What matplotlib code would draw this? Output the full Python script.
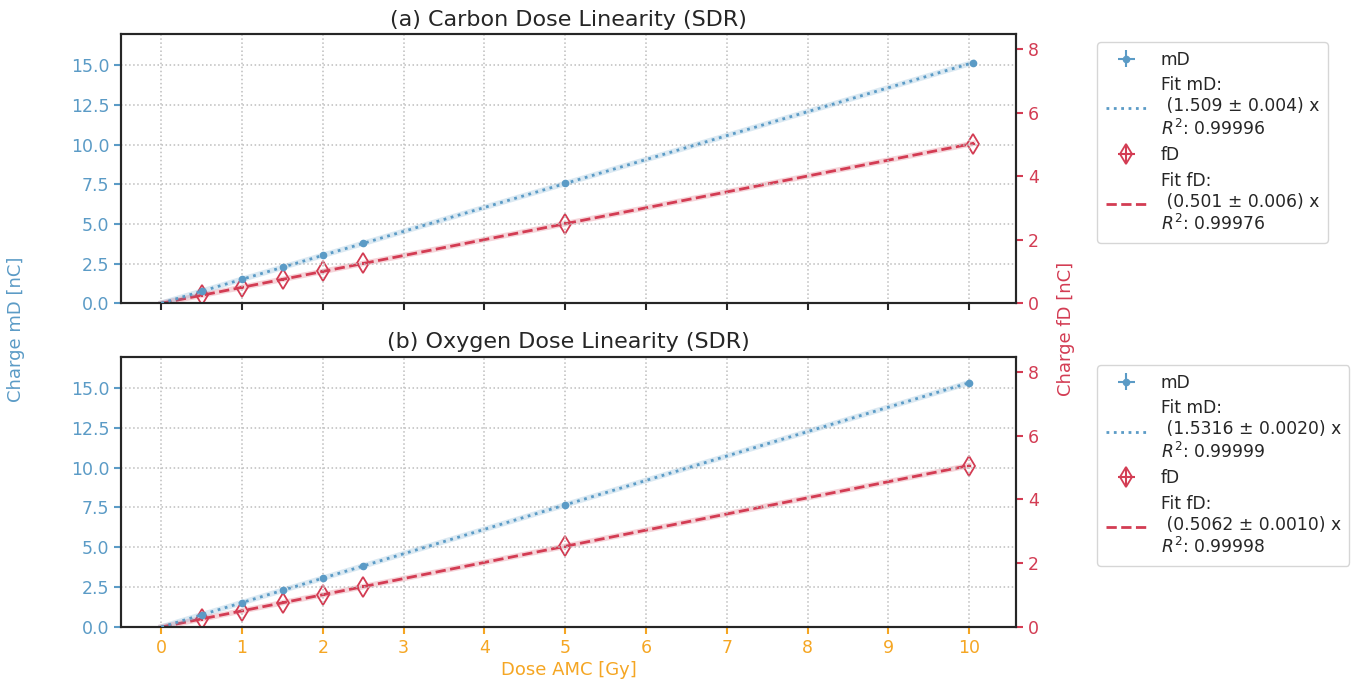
import matplotlib
matplotlib.use("Agg")
import matplotlib.pyplot as plt
import numpy as np

# ---- data ----
dose_c = [0.5, 1.0, 1.5, 2.0, 2.5, 5.0, 10.05]
md_c = [0.76, 1.51, 2.26, 3.02, 3.77, 7.55, 15.15]
fd_c = [0.25, 0.50, 0.75, 1.00, 1.26, 2.51, 5.03]
dose_o = [0.5, 1.0, 1.5, 2.0, 2.5, 5.0, 10.0]
md_o = [0.77, 1.53, 2.30, 3.06, 3.83, 7.66, 15.32]
fd_o = [0.25, 0.51, 0.76, 1.01, 1.27, 2.53, 5.06]
slope_md = [1.509, 1.5316]
slope_fd = [0.501, 0.5062]
md_labels = ["Fit mD:\n (1.509 ± 0.004) x\n$R^2$: 0.99996",
             "Fit mD:\n (1.5316 ± 0.0020) x\n$R^2$: 0.99999"]
fd_labels = ["Fit fD:\n (0.501 ± 0.006) x\n$R^2$: 0.99976",
             "Fit fD:\n (0.5062 ± 0.0010) x\n$R^2$: 0.99998"]
titles = ["(a) Carbon Dose Linearity (SDR)", "(b) Oxygen Dose Linearity (SDR)"]
xticks = list(range(0, 11))

BLUE = "#5B9BC6"
RED = "#D33C53"
ORANGE = "#F5A623"
DARK = "#262626"

plt.rcParams['font.family'] = ['DejaVu Sans']
plt.rcParams['text.color'] = DARK
fig = plt.figure(figsize=(13.56, 6.86), dpi=100)

ax_pos = [[0.0892, 0.558, 0.6600, 0.392], [0.0892, 0.086, 0.6600, 0.394]]
leg_y = [0.951, 0.480]
datasets = [(dose_c, md_c, fd_c), (dose_o, md_o, fd_o)]

for i in range(2):
    ax = fig.add_axes(ax_pos[i])
    ax2 = ax.twinx()
    x, md, fd = datasets[i]
    x = np.array(x)
    xf = np.array([0, x.max()])
    h1 = ax.errorbar(x, md, xerr=0.02, yerr=0.05, fmt='o', color=BLUE,
                     ms=4.5, elinewidth=1.5, capsize=0, label='mD', zorder=4)
    ax.plot(xf, slope_md[i] * xf, color=BLUE, lw=4, alpha=0.22, zorder=2)
    l1, = ax.plot(xf, slope_md[i] * xf, color=BLUE, lw=2, ls=':', zorder=3,
                  label=md_labels[i])
    h2 = ax2.errorbar(x, fd, xerr=0.02, yerr=0.05, fmt='d', color=RED, mfc='none',
                      mec=RED, ms=10, mew=1.3, elinewidth=1.5, capsize=0,
                      label='fD', zorder=4)
    ax2.plot(xf, slope_fd[i] * xf, color=RED, lw=4, alpha=0.22, zorder=2)
    l2, = ax2.plot(xf, slope_fd[i] * xf, color=RED, lw=2, ls='--', zorder=3,
                   label=fd_labels[i])

    ax.set_xlim(-0.5, 10.58)
    ax.set_ylim(0, 16.95)
    ax2.set_ylim(0, 8.475)
    ax.set_xticks(xticks)
    ax.set_yticks([0, 2.5, 5, 7.5, 10, 12.5, 15])
    ax.set_yticklabels(["0.0", "2.5", "5.0", "7.5", "10.0", "12.5", "15.0"])
    ax2.set_yticks([0, 2, 4, 6, 8])
    ax.grid(True, ls=':', color='#bdbdbd', lw=1.1)
    ax.tick_params(axis='y', colors=BLUE, labelsize=12.5, length=5, width=1.5)
    ax2.tick_params(axis='y', colors=RED, labelsize=12.5, length=5, width=1.5)
    for a in (ax, ax2):
        for s in a.spines.values():
            s.set_linewidth(1.5)
            s.set_color(DARK)
    if i == 0:
        ax.tick_params(axis='x', labelbottom=False, length=5, width=1.5, color=DARK)
    else:
        ax.tick_params(axis='x', colors=ORANGE, labelsize=12.5, length=5, width=1.5)
        ax.set_xlabel("Dose AMC [Gy]", color=ORANGE, fontsize=13, labelpad=3)
    ax.set_title(titles[i], fontsize=16, pad=6, color=DARK)
    ax.set_zorder(ax2.get_zorder() + 1)
    ax.patch.set_visible(False)

    fig.legend([h1, l1, h2, l2], ['mD', md_labels[i], 'fD', fd_labels[i]],
               loc='upper left', bbox_to_anchor=(0.803, leg_y[i]),
               fontsize=12.3, frameon=True, handlelength=2.4, labelspacing=0.45,
               borderpad=0.5, handletextpad=0.8)

fig.text(0.012, 0.52, "Charge mD [nC]", color=BLUE, rotation=90, fontsize=13,
         ha='center', va='center')
fig.text(0.786, 0.52, "Charge fD [nC]", color=RED, rotation=90, fontsize=13,
         ha='center', va='center')

fig.savefig("out.png", dpi=100)
